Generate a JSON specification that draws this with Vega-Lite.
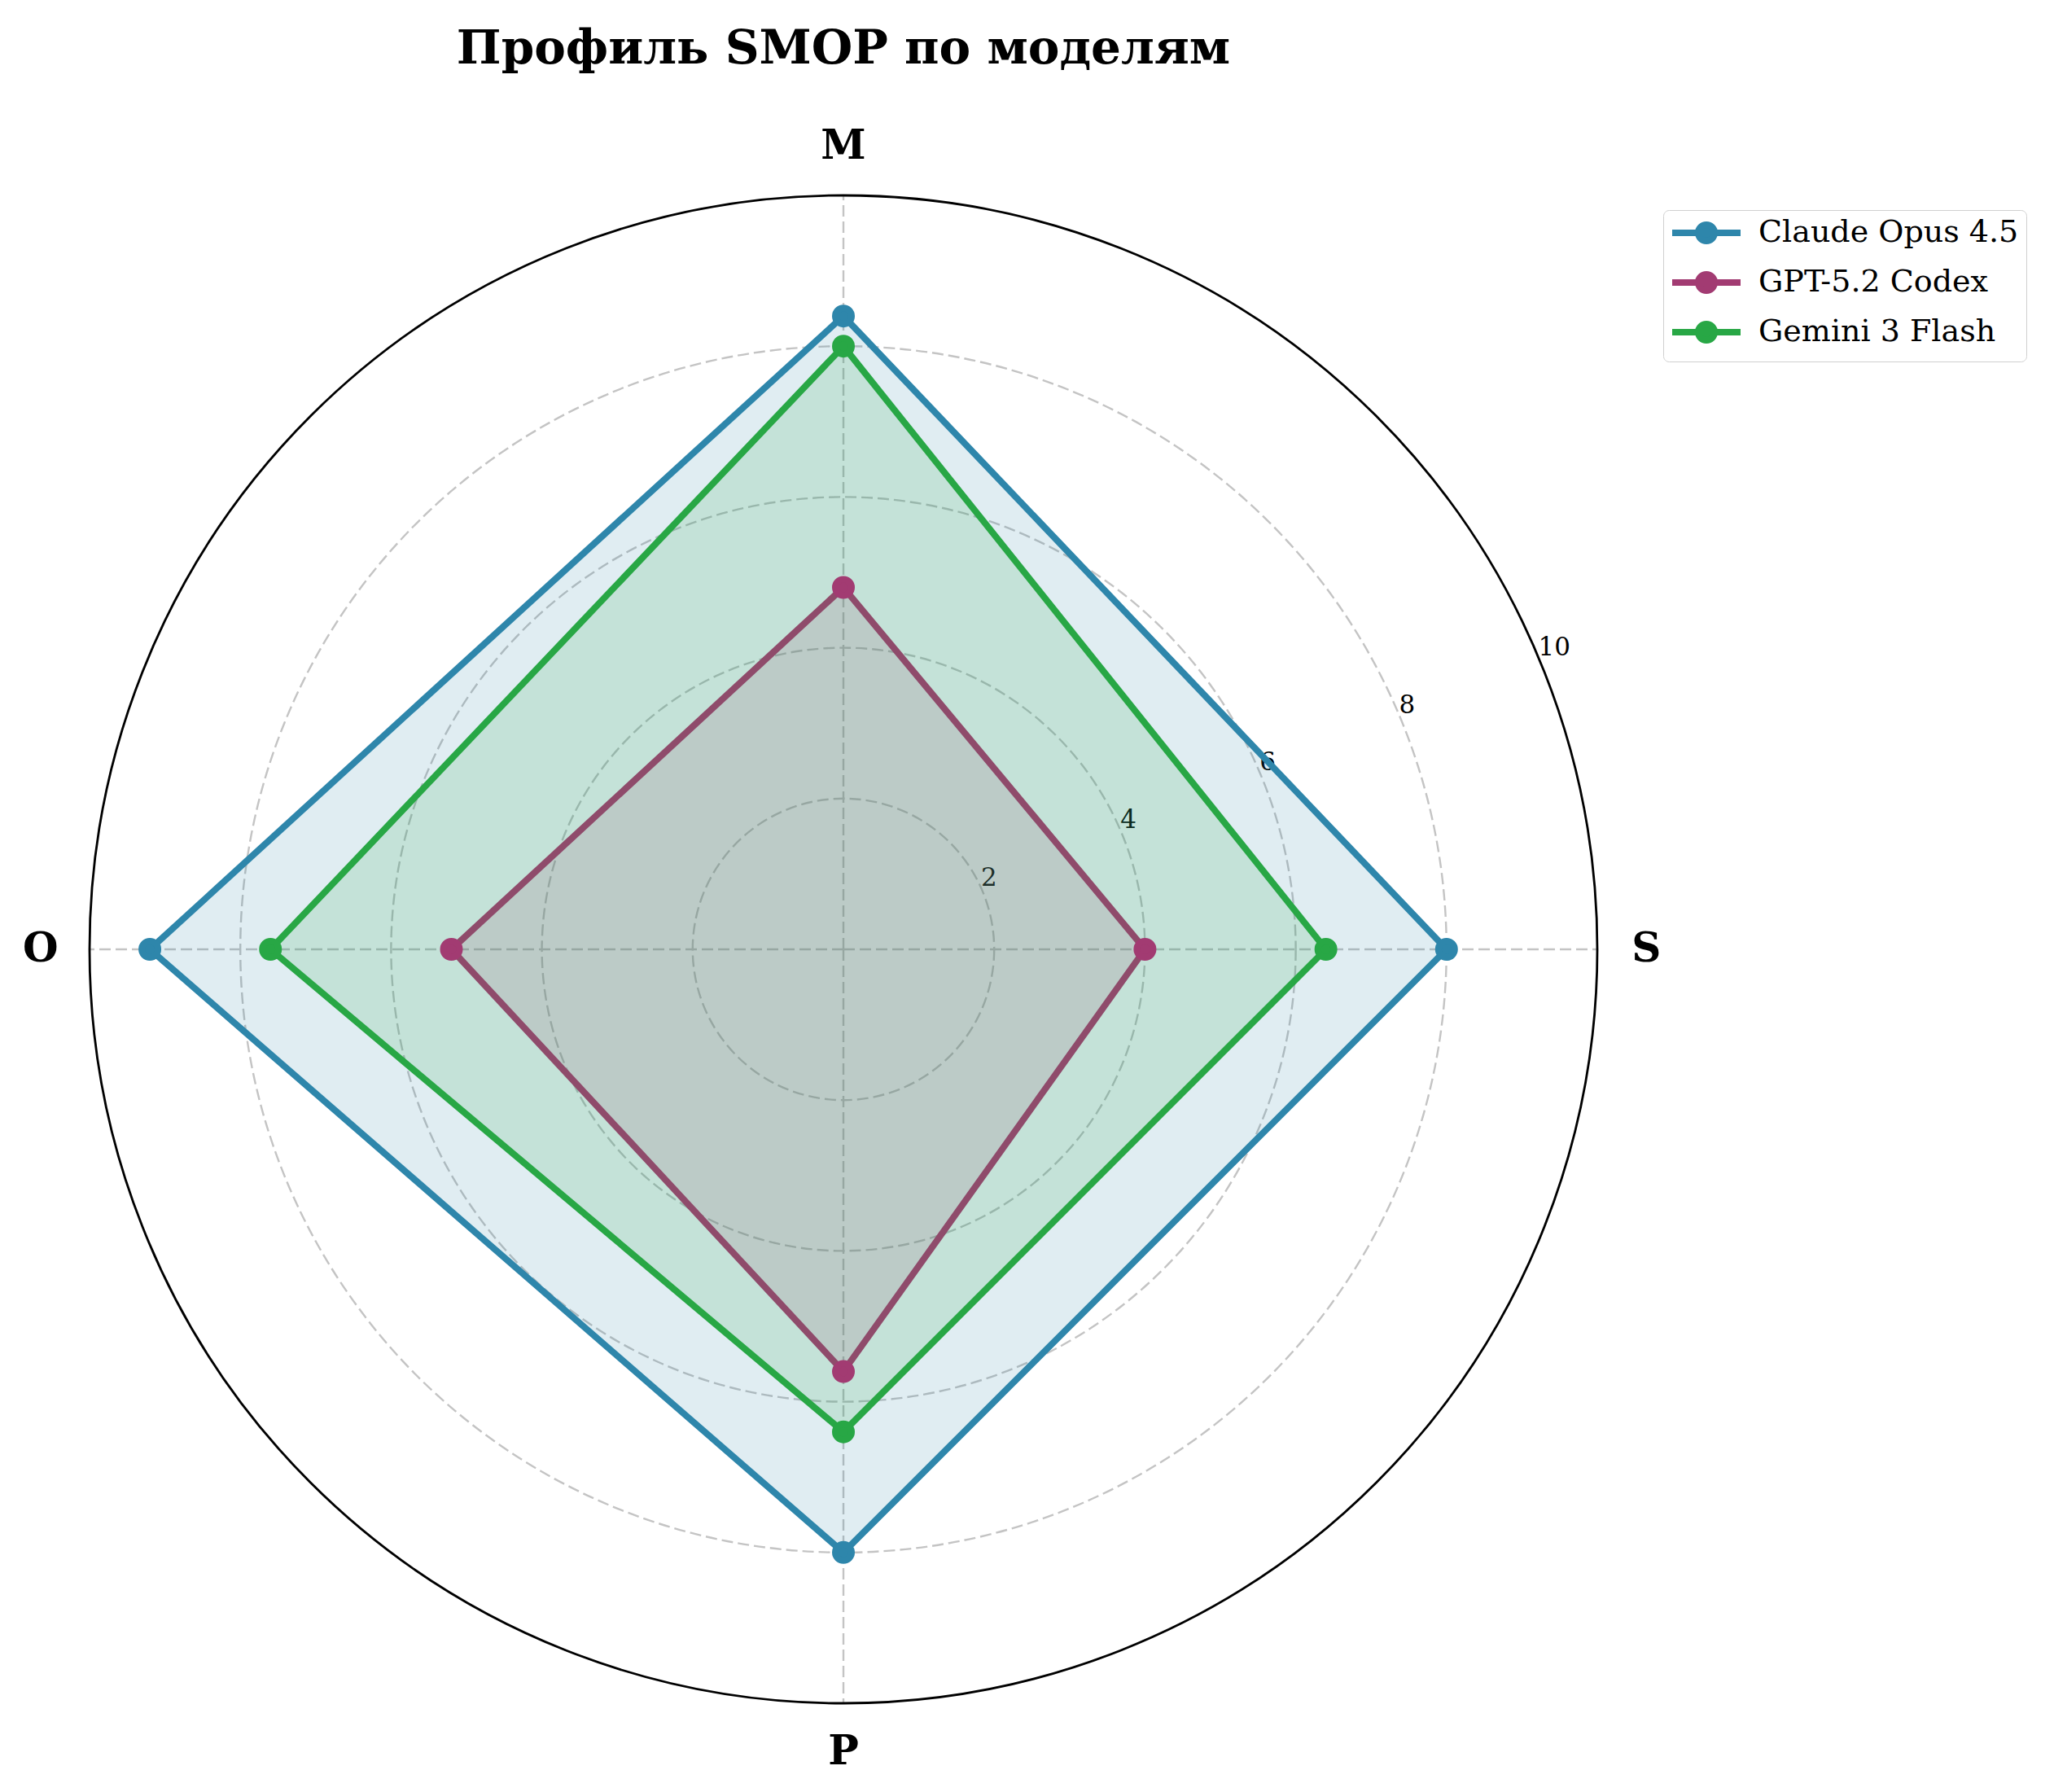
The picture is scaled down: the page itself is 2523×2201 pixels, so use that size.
{
  "$schema": "https://vega.github.io/schema/vega-lite/v6.json",
  "width": 1852,
  "height": 1852,
  "autosize": {"type": "none"},
  "padding": {"left": 110, "top": 240, "right": 561, "bottom": 109},
  "background": "white",
  "title": {
    "text": "Профиль SMOP по моделям",
    "font": "DejaVu Serif",
    "fontSize": 58,
    "fontWeight": "bold",
    "color": "black",
    "anchor": "middle",
    "baseline": "alphabetic",
    "offset": 19
  },
  "config": {"view": {"stroke": null}, "font": "DejaVu Serif"},
  "datasets": {
    "scores": [
      {"model": "Claude Opus 4.5", "axis": "S", "idx": 0, "value": 8.0},
      {"model": "Claude Opus 4.5", "axis": "M", "idx": 1, "value": 8.4},
      {"model": "Claude Opus 4.5", "axis": "O", "idx": 2, "value": 9.2},
      {"model": "Claude Opus 4.5", "axis": "P", "idx": 3, "value": 8.0},
      {"model": "GPT-5.2 Codex", "axis": "S", "idx": 0, "value": 4.0},
      {"model": "GPT-5.2 Codex", "axis": "M", "idx": 1, "value": 4.8},
      {"model": "GPT-5.2 Codex", "axis": "O", "idx": 2, "value": 5.2},
      {"model": "GPT-5.2 Codex", "axis": "P", "idx": 3, "value": 5.6},
      {"model": "Gemini 3 Flash", "axis": "S", "idx": 0, "value": 6.4},
      {"model": "Gemini 3 Flash", "axis": "M", "idx": 1, "value": 8.0},
      {"model": "Gemini 3 Flash", "axis": "O", "idx": 2, "value": 7.6},
      {"model": "Gemini 3 Flash", "axis": "P", "idx": 3, "value": 6.4}
    ],
    "axes": [
      {"axis": "S", "idx": 0},
      {"axis": "M", "idx": 1},
      {"axis": "O", "idx": 2},
      {"axis": "P", "idx": 3}
    ],
    "rings": [{"r": 2}, {"r": 4}, {"r": 6}, {"r": 8}, {"r": 10}]
  },
  "layer": [
    {
      "data": {"name": "rings"},
      "transform": [
        {"filter": "datum.r < 10"},
        {"calculate": "0", "as": "c"}
      ],
      "mark": {"type": "point", "shape": "circle", "filled": false, "opacity": 1, "fill": "transparent", "stroke": "#c4c4c4", "strokeWidth": 2.4, "strokeDash": [14, 6]},
      "encoding": {
        "x": {"field": "c", "type": "quantitative", "scale": {"domain": [-10, 10], "nice": false, "zero": false}, "axis": null},
        "y": {"field": "c", "type": "quantitative", "scale": {"domain": [-10, 10], "nice": false, "zero": false}, "axis": null},
        "size": {"field": "r", "type": "quantitative", "scale": {"type": "pow", "exponent": 2, "domain": [0, 10], "range": [0, 3429904]}, "legend": null}
      }
    },
    {
      "data": {"name": "axes"},
      "transform": [
        {"calculate": "0", "as": "c"},
        {"calculate": "datum.idx * PI / 2", "as": "a"},
        {"calculate": "10 * cos(datum.a)", "as": "ex"},
        {"calculate": "10 * sin(datum.a)", "as": "ey"}
      ],
      "mark": {"type": "rule", "stroke": "#c4c4c4", "strokeWidth": 2.4, "strokeDash": [14, 6]},
      "encoding": {
        "x": {"field": "c", "type": "quantitative", "scale": {"domain": [-10, 10], "nice": false, "zero": false}, "axis": null},
        "y": {"field": "c", "type": "quantitative", "scale": {"domain": [-10, 10], "nice": false, "zero": false}, "axis": null},
        "x2": {"field": "ex"},
        "y2": {"field": "ey"}
      }
    },
    {
      "data": {"name": "rings"},
      "transform": [
        {"filter": "datum.r == 10"},
        {"calculate": "0", "as": "c"}
      ],
      "mark": {"type": "point", "shape": "circle", "filled": false, "opacity": 1, "fill": "transparent", "stroke": "black", "strokeWidth": 2.8},
      "encoding": {
        "x": {"field": "c", "type": "quantitative", "scale": {"domain": [-10, 10], "nice": false, "zero": false}, "axis": null},
        "y": {"field": "c", "type": "quantitative", "scale": {"domain": [-10, 10], "nice": false, "zero": false}, "axis": null},
        "size": {"field": "r", "type": "quantitative", "scale": {"type": "pow", "exponent": 2, "domain": [0, 10], "range": [0, 3429904]}, "legend": null}
      }
    },
    {
      "data": {"name": "rings"},
      "transform": [
        {"calculate": "datum.r * cos(PI / 8)", "as": "tx"},
        {"calculate": "datum.r * sin(PI / 8)", "as": "ty"}
      ],
      "mark": {"type": "text", "align": "left", "baseline": "alphabetic", "dx": -2, "dy": -7, "font": "DejaVu Serif", "fontSize": 31, "color": "black"},
      "encoding": {
        "x": {"field": "tx", "type": "quantitative", "scale": {"domain": [-10, 10], "nice": false, "zero": false}, "axis": null},
        "y": {"field": "ty", "type": "quantitative", "scale": {"domain": [-10, 10], "nice": false, "zero": false}, "axis": null},
        "text": {"field": "r", "type": "quantitative"}
      }
    },
    {
      "data": {"name": "axes"},
      "transform": [
        {"calculate": "datum.idx * PI / 2", "as": "a"},
        {"calculate": "10.65 * cos(datum.a)", "as": "lx"},
        {"calculate": "10.65 * sin(datum.a)", "as": "ly"}
      ],
      "mark": {"type": "text", "align": "center", "baseline": "middle", "font": "DejaVu Serif", "fontSize": 50, "fontWeight": "bold", "color": "black"},
      "encoding": {
        "x": {"field": "lx", "type": "quantitative", "scale": {"domain": [-10, 10], "nice": false, "zero": false}, "axis": null},
        "y": {"field": "ly", "type": "quantitative", "scale": {"domain": [-10, 10], "nice": false, "zero": false}, "axis": null},
        "text": {"field": "axis", "type": "nominal"}
      }
    },
    {
      "data": {"name": "scores"},
      "transform": [
        {"filter": "datum.model == 'Claude Opus 4.5'"},
        {"calculate": "datum.idx * PI / 2", "as": "a"},
        {"calculate": "datum.value * cos(datum.a)", "as": "px"},
        {"calculate": "datum.value * sin(datum.a)", "as": "py"}
      ],
      "mark": {"type": "line", "interpolate": "linear-closed", "stroke": "#2E86AB", "fill": "#2E86AB", "fillOpacity": 0.15, "strokeWidth": 8},
      "encoding": {
        "x": {"field": "px", "type": "quantitative", "scale": {"domain": [-10, 10], "nice": false, "zero": false}, "axis": null},
        "y": {"field": "py", "type": "quantitative", "scale": {"domain": [-10, 10], "nice": false, "zero": false}, "axis": null},
        "order": {"field": "idx", "type": "quantitative"}
      }
    },
    {
      "data": {"name": "scores"},
      "transform": [
        {"filter": "datum.model == 'GPT-5.2 Codex'"},
        {"calculate": "datum.idx * PI / 2", "as": "a"},
        {"calculate": "datum.value * cos(datum.a)", "as": "px"},
        {"calculate": "datum.value * sin(datum.a)", "as": "py"}
      ],
      "mark": {"type": "line", "interpolate": "linear-closed", "stroke": "#A23B72", "fill": "#A23B72", "fillOpacity": 0.15, "strokeWidth": 8},
      "encoding": {
        "x": {"field": "px", "type": "quantitative", "scale": {"domain": [-10, 10], "nice": false, "zero": false}, "axis": null},
        "y": {"field": "py", "type": "quantitative", "scale": {"domain": [-10, 10], "nice": false, "zero": false}, "axis": null},
        "order": {"field": "idx", "type": "quantitative"}
      }
    },
    {
      "data": {"name": "scores"},
      "transform": [
        {"filter": "datum.model == 'Gemini 3 Flash'"},
        {"calculate": "datum.idx * PI / 2", "as": "a"},
        {"calculate": "datum.value * cos(datum.a)", "as": "px"},
        {"calculate": "datum.value * sin(datum.a)", "as": "py"}
      ],
      "mark": {"type": "line", "interpolate": "linear-closed", "stroke": "#28A745", "fill": "#28A745", "fillOpacity": 0.15, "strokeWidth": 8},
      "encoding": {
        "x": {"field": "px", "type": "quantitative", "scale": {"domain": [-10, 10], "nice": false, "zero": false}, "axis": null},
        "y": {"field": "py", "type": "quantitative", "scale": {"domain": [-10, 10], "nice": false, "zero": false}, "axis": null},
        "order": {"field": "idx", "type": "quantitative"}
      }
    },
    {
      "data": {"name": "scores"},
      "transform": [
        {"calculate": "datum.idx * PI / 2", "as": "a"},
        {"calculate": "datum.value * cos(datum.a)", "as": "px"},
        {"calculate": "datum.value * sin(datum.a)", "as": "py"}
      ],
      "mark": {"type": "point", "shape": "circle", "filled": true, "size": 400, "strokeWidth": 8, "opacity": 1},
      "encoding": {
        "x": {"field": "px", "type": "quantitative", "scale": {"domain": [-10, 10], "nice": false, "zero": false}, "axis": null},
        "y": {"field": "py", "type": "quantitative", "scale": {"domain": [-10, 10], "nice": false, "zero": false}, "axis": null},
        "fill": {
          "field": "model",
          "type": "nominal",
          "scale": {"domain": ["Claude Opus 4.5", "GPT-5.2 Codex", "Gemini 3 Flash"], "range": ["#2E86AB", "#A23B72", "#28A745"]},
          "legend": {
            "title": null,
            "orient": "none",
            "legendX": 1933,
            "legendY": 18,
            "symbolType": "M-2.8,0H2.8M0.667,0A0.667,0.667,0,1,1,-0.667,0A0.667,0.667,0,1,1,0.667,0Z",
            "symbolSize": 900,
            "symbolStrokeWidth": 8,
            "symbolOffset": 25,
            "labelFont": "DejaVu Serif",
            "labelFontSize": 38,
            "labelColor": "black",
            "labelOffset": 45,
            "labelLimit": 600,
            "rowPadding": 7,
            "padding": 9,
            "strokeColor": "#d0d0d0",
            "fillColor": "white",
            "cornerRadius": 7
          }
        },
        "stroke": {
          "field": "model",
          "type": "nominal",
          "scale": {"domain": ["Claude Opus 4.5", "GPT-5.2 Codex", "Gemini 3 Flash"], "range": ["#2E86AB", "#A23B72", "#28A745"]},
          "legend": {
            "title": null,
            "orient": "none",
            "legendX": 1933,
            "legendY": 18,
            "symbolType": "M-2.8,0H2.8M0.667,0A0.667,0.667,0,1,1,-0.667,0A0.667,0.667,0,1,1,0.667,0Z",
            "symbolSize": 900,
            "symbolStrokeWidth": 8,
            "symbolOffset": 25,
            "labelFont": "DejaVu Serif",
            "labelFontSize": 38,
            "labelColor": "black",
            "labelOffset": 45,
            "labelLimit": 600,
            "rowPadding": 7,
            "padding": 9,
            "strokeColor": "#d0d0d0",
            "fillColor": "white",
            "cornerRadius": 7
          }
        }
      }
    }
  ]
}
